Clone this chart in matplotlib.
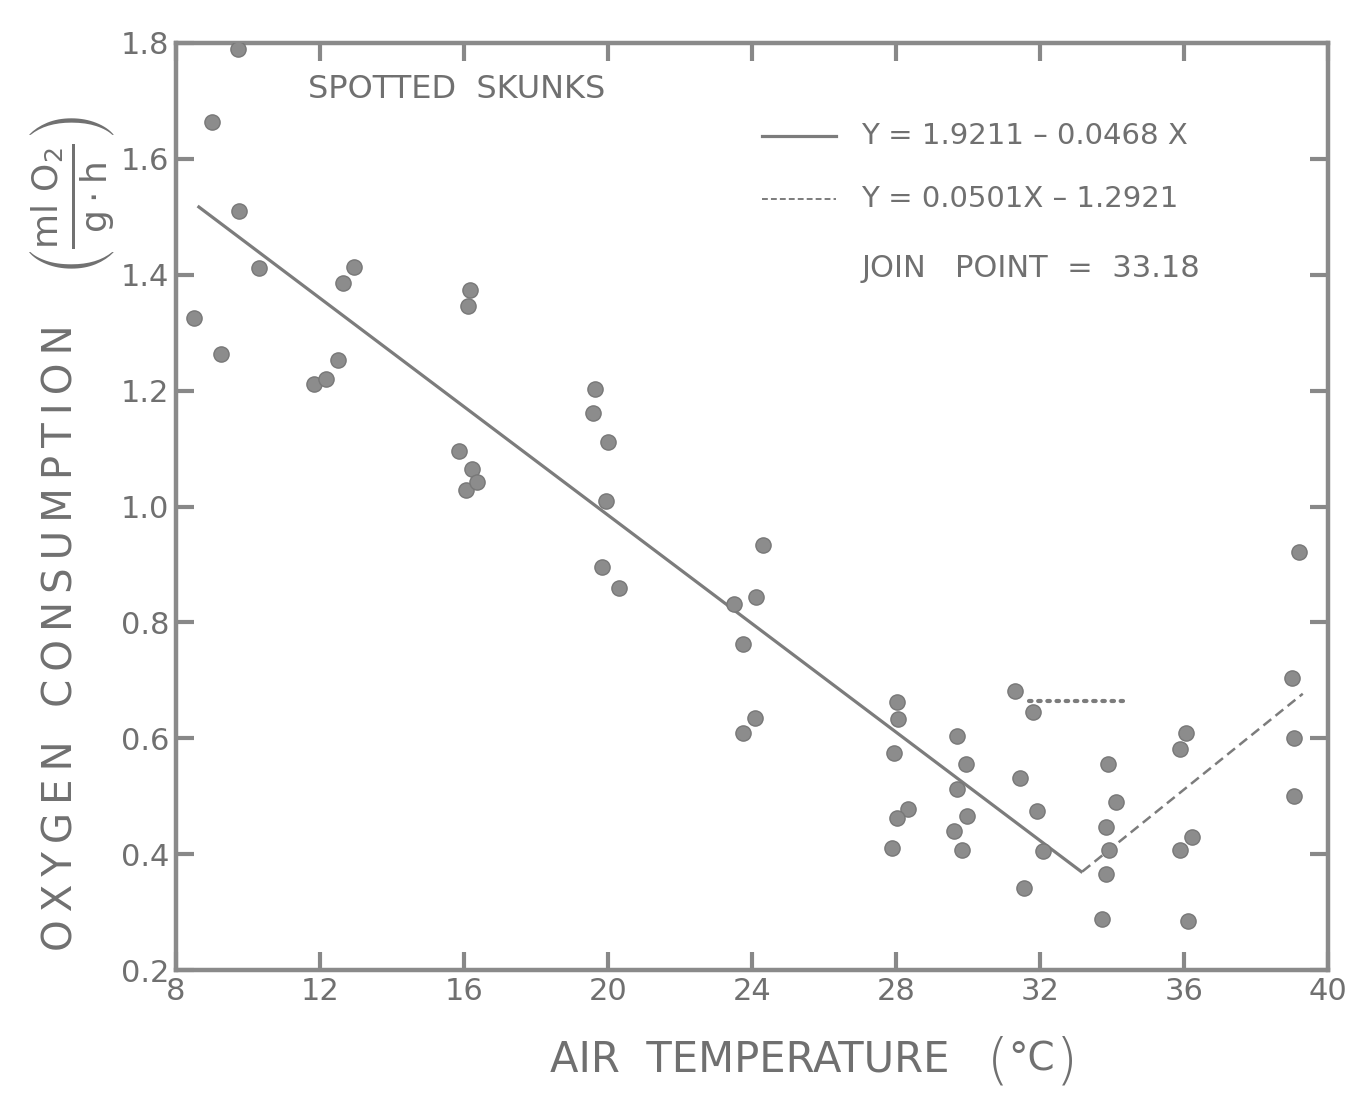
import matplotlib
matplotlib.use("Agg")
import matplotlib.pyplot as plt
import numpy as np

plt.rcParams['font.family'] = ['DejaVu Sans']
plt.rcParams['mathtext.fontset'] = 'dejavusans'

# Data
temp = [8.50, 9.00, 9.72, 9.75, 9.25, 10.31, 11.83, 12.17, 12.50, 12.64, 12.94,
        16.17, 16.11, 15.86, 16.22, 16.06, 16.36,
        19.64, 19.58, 20.00, 19.94, 19.83, 20.31,
        23.50, 23.75, 24.31, 24.11, 23.75, 24.08,
        28.03, 28.06, 27.94, 28.33, 28.03, 27.89,
        29.69, 29.94, 29.69, 29.97, 29.61, 29.83,
        31.31, 31.81, 31.44, 31.92, 32.08, 31.56,
        33.89, 34.11, 33.83, 33.92, 33.83, 33.72,
        36.06, 35.89, 36.22, 35.89, 36.11,
        39.00, 39.06, 39.06, 39.19]
oxygen = [1.325, 1.664, 1.790, 1.510, 1.263, 1.412, 1.211, 1.220, 1.253, 1.386, 1.413,
          1.374, 1.346, 1.096, 1.065, 1.028, 1.042,
          1.203, 1.161, 1.111, 1.009, 0.896, 0.859,
          0.831, 0.763, 0.934, 0.844, 0.609, 0.635,
          0.663, 0.633, 0.575, 0.478, 0.462, 0.411,
          0.604, 0.556, 0.512, 0.466, 0.440, 0.407,
          0.682, 0.645, 0.531, 0.474, 0.405, 0.342,
          0.556, 0.490, 0.447, 0.407, 0.366, 0.288,
          0.609, 0.581, 0.430, 0.407, 0.285,
          0.704, 0.600, 0.500, 0.921]

# regression lines
lower_a, lower_b = 1.9211, -0.0468
upper_a, upper_b = -1.2921, 0.0501
join_point = 33.18
lower_x = [8.6, join_point]
upper_x = [join_point, 39.3]
# dotted horizontal segment
dotted_x = [31.7, 34.3]
dotted_y = [0.664, 0.664]

xticks = [8, 12, 16, 20, 24, 28, 32, 36, 40]
yticks = [0.2, 0.4, 0.6, 0.8, 1.0, 1.2, 1.4, 1.6, 1.8]
yticklabels = ['0.2', '0.4', '0.6', '0.8', '1.0', '1.2', '1.4', '1.6', '1.8']

grey = '#7c7c7c'
txt = '#707070'


def spaced(s):
    """Insert thin spaces between letters (wide lettering of the original)."""
    return '\u2009'.join(s)


fig = plt.figure(figsize=(13.57, 10.94), dpi=100)
ax = fig.add_axes([0.1297, 0.1133, 0.8489, 0.8474])

ax.scatter(temp, oxygen, s=120, color='#8c8c8c', edgecolor='#787878', linewidth=1.0, zorder=3)

lx = np.array(lower_x)
ax.plot(lx, lower_a + lower_b * lx, color=grey, lw=2.3, solid_capstyle='butt')
ux = np.array(upper_x)
ax.plot(ux, upper_a + upper_b * ux, color=grey, lw=1.8, linestyle=(0, (4, 2.2)))
ax.plot(dotted_x, dotted_y, color=grey, lw=3.0, linestyle=(0, (0.6, 1.6)), dash_capstyle='round')

ax.set_xlim(8, 40)
ax.set_ylim(0.2, 1.8)
ax.set_xticks(xticks)
ax.set_xticklabels([str(v) for v in xticks])
ax.set_yticks(yticks)
ax.set_yticklabels(yticklabels)
ax.tick_params(direction='in', length=13, width=3, color='#888888', labelsize=22,
               labelcolor=txt, top=True, right=True, pad=5)
for s in ax.spines.values():
    s.set_linewidth(3.2)
    s.set_color('#8a8a8a')

# legend-like annotations
ax.plot([0.509, 0.573], [0.900, 0.900], transform=ax.transAxes, color=grey, lw=2.3)
ax.plot([0.509, 0.573], [0.832, 0.832], transform=ax.transAxes, color=grey, lw=1.4,
        linestyle=(0, (3, 1.6)))
ax.text(0.595, 0.900, 'Y = 1.9211 – 0.0468 X', transform=ax.transAxes, fontsize=21,
        color=txt, va='center', ha='left')
ax.text(0.595, 0.832, 'Y = 0.0501X – 1.2921', transform=ax.transAxes, fontsize=21,
        color=txt, va='center', ha='left')
ax.text(0.595, 0.757, 'JOIN   POINT  =  33.18',
        transform=ax.transAxes, fontsize=22, color=txt, va='center', ha='left')
ax.text(0.115, 0.950, 'SPOTTED  SKUNKS', transform=ax.transAxes,
        fontsize=23, color=txt, va='center', ha='left')

# x label
ax.text(0.498, -0.097, 'AIR  TEMPERATURE', transform=ax.transAxes, fontsize=30,
        color=txt, ha='center', va='center')
ax.text(0.713, -0.100, '(', transform=ax.transAxes, fontsize=40, color=txt,
        ha='center', va='center', fontweight='light')
ax.text(0.743, -0.097, '°C', transform=ax.transAxes, fontsize=28, color=txt,
        ha='center', va='center')
ax.text(0.773, -0.100, ')', transform=ax.transAxes, fontsize=40, color=txt,
        ha='center', va='center', fontweight='light')

# y label
ax.text(-0.099, 0.358, spaced('OXYGEN') + '  \u2009' + spaced('CONSUMPTION'),
        transform=ax.transAxes, fontsize=29, color=txt, ha='center', va='center',
        rotation=90)
ax.text(-0.090, 0.836,
        '$\\left(\\frac{\\mathrm{ml\\ O_2}}{\\mathrm{g\\cdot h}}\\right)$',
        transform=ax.transAxes, fontsize=37, color=txt, ha='center', va='center',
        rotation=90)

fig.savefig('out.png', dpi=100)
